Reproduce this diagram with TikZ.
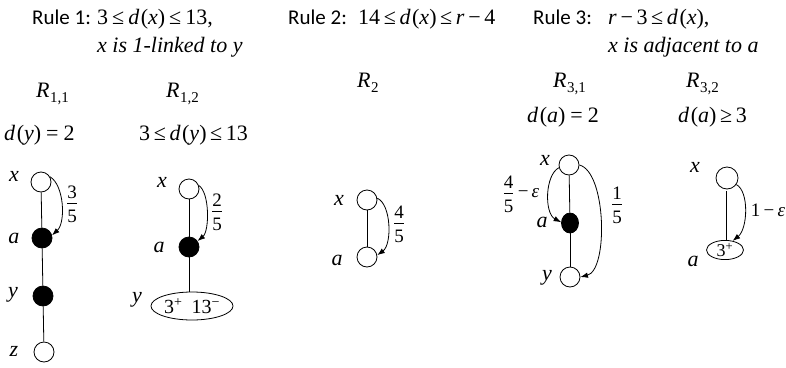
\documentclass[tikz,border=0pt]{standalone}
\usepackage{fontspec}
\usepackage{amsmath}
\setmainfont{Liberation Serif}
\newfontfamily\rulefont{Carlito}
\usetikzlibrary{arrows.meta,shapes.geometric}
\newcommand\Rsub[1]{\textit{R}\kern0.5pt\raisebox{-5pt}{\fontsize{15}{15}\selectfont #1}}
\newcommand\fr[2]{$\genfrac{}{}{0.6pt}{1}{\hbox{\rule[-4pt]{0pt}{4pt}#1}}{\hbox{\rule{0pt}{18pt}#2}}$}
\newcommand\dk{\kern1.5pt}
\newcommand\eqk{\kern5pt=\kern5pt}
\begin{document}
\begin{tikzpicture}[x=1pt,y=-1pt,
  txt/.style={inner sep=0, anchor=base west, font=\fontsize{22}{26}\selectfont},
  rulelbl/.style={inner sep=0, anchor=base west, font=\rulefont\fontsize{21}{26}\selectfont},
  vlbl/.style={inner sep=0, font=\fontsize{22}{26}\selectfont\itshape},
  frlbl/.style={inner sep=0, font=\fontsize{19}{22}\selectfont},
  vopen/.style={circle, draw, line width=0.8pt, minimum size=20pt, inner sep=0},
  vfull/.style={vopen, fill=black},
  vell/.style={ellipse, draw, line width=0.8pt, inner sep=0},
  ln/.style={line width=0.8pt},
  arr/.style={line width=0.8pt, -{Latex[length=7.5pt,width=5.5pt]}}]
\useasboundingbox (0,0) rectangle (786,367);

% titles
\node[rulelbl] (t1s) at (32,24) {Rule 1:};
\node[txt] (t1m) at (97,24) {3\kern4pt≤\kern4pt\textit{d}\dk(\textit{x})\kern4pt≤\kern4pt13,};
\node[txt] (t1b) at (97,52) {\textit{x is 1-linked to y}};
\node[rulelbl] (t2s) at (288,24) {Rule 2:};
\node[txt] (t2m) at (358,24) {14\,≤\,\textit{d}\dk(\textit{x})\,≤\,\textit{r}\,−\,4};
\node[rulelbl] (t3s) at (533,24) {Rule 3:};
\node[txt] (t3m) at (608,24) {\textit{r}\,−\,3\,≤\,\textit{d}\dk(\textit{x}),};
\node[txt] (t3b) at (608,52) {\textit{x is adjacent to a}};

% sub titles
\node[txt] (r11) at (36,97) {\Rsub{1,1}};
\node[txt] (r12) at (166,97) {\Rsub{1,2}};
\node[txt] (r2) at (357,87) {\Rsub{2}};
\node[txt] (r31) at (553,87) {\Rsub{3,1}};
\node[txt] (r32) at (686,87) {\Rsub{3,2}};

\node[txt] (c11) at (4,140) {\textit{d}\dk(\textit{y})\eqk 2};
\node[txt] (c12) at (139,140) {3\,≤\,\textit{d}\dk(\textit{y})\,≤\,13};
\node[txt] (c31) at (527,122) {\textit{d}\dk(\textit{a})\eqk 2};
\node[txt] (c32) at (678,122) {\textit{d}\dk(\textit{a})\,≥\,3};

% R11
\node[vopen] (x11) at (41,182) {};
\node[vfull] (a11) at (42,238) {};
\node[vfull] (y11) at (43,296) {};
\node[vopen] (z11) at (44,352) {};
\node[vlbl] (lx11) at (14,176) {x};
\node[vlbl] (la11) at (14,238) {a};
\node[vlbl] (ly11) at (13,295) {y};
\node[vlbl] (lz11) at (14,351) {z};
\draw[ln] (x11) -- (a11);
\draw[ln] (a11) -- (y11);
\draw[ln] (y11) -- (z11);
\draw[arr] (x11.30) .. controls +(14,8) and +(14,-13) .. (a11.15);
\node[frlbl] (f11) at (72,204) {\fr{3}{5}};

% R12
\node[vopen] (x12) at (189,189) {};
\node[vfull] (a12) at (189,247) {};
\node[vell, minimum width=82pt, minimum height=28pt, font=\fontsize{20}{22}\selectfont] (y12) at (192,306) {3\textsuperscript{+}\hspace{9pt}13\textsuperscript{−}};
\node[vlbl] (lx12) at (162,182) {x};
\node[vlbl] (la12) at (159,247) {a};
\node[vlbl] (ly12) at (137,300) {y};
\draw[ln] (x12) -- (a12);
\draw[ln] (a12) -- (a12 |- y12.north);
\draw[arr] (x12.20) .. controls +(11,7) and +(12,-10) .. (a12.35);
\node[frlbl] (f12) at (217,212) {\fr{2}{5}};

% R2
\node[vopen] (x2) at (367,200) {};
\node[vopen] (a2) at (367,257) {};
\node[vlbl] (lx2) at (339,200) {x};
\node[vlbl] (la2) at (337,260) {a};
\draw[ln] (x2) -- (a2);
\draw[arr] (x2.10) .. controls +(14,6) and +(15,-11) .. (a2.10);
\node[frlbl] (f2) at (399,224) {\fr{4}{5}};

% R31
\node[vopen] (x31) at (569,165) {};
\node[ellipse, draw, fill=black, line width=0.8pt, inner sep=0, minimum width=17pt, minimum height=20pt] (a31) at (570,223) {};
\node[vopen] (y31) at (570,277) {};
\node[vlbl] (lx31) at (545,160) {x};
\node[vlbl] (la31) at (542,222) {a};
\node[vlbl] (ly31) at (547,278) {y};
\draw[ln] (x31) -- (a31);
\draw[ln] (a31) -- (y31);
\draw[arr] (x31.195) .. controls +(-14,7) and +(-17,-9) .. (a31.175);
\draw[arr] (x31.east) .. controls +(27,7) and +(28,-7) .. (y31.east);
\node[frlbl] (f31a) at (521,194) {\fr{4}{5}\,−\,\textit{ε}};
\node[frlbl] (f31b) at (617,205) {\fr{1}{5}};

% R32
\node[vopen, minimum size=22pt] (x32) at (727,178) {};
\node[vell, minimum width=37pt, minimum height=19pt, font=\fontsize{18}{18}\selectfont] (a32) at (725,250) {3\textsuperscript{+}};
\node[vlbl] (lx32) at (695,167) {x};
\node[vlbl] (la32) at (693,261) {a};
\draw[ln] (x32.south) ++(-1,2) coordinate (x32b) -- (x32b |- a32.north);
\draw[arr] (x32.-35) .. controls +(13,7) and +(15,-12) .. (a32.50);
\node[frlbl] (f32) at (768,210) {1\,−\,\textit{ε}};
\end{tikzpicture}
\end{document}
